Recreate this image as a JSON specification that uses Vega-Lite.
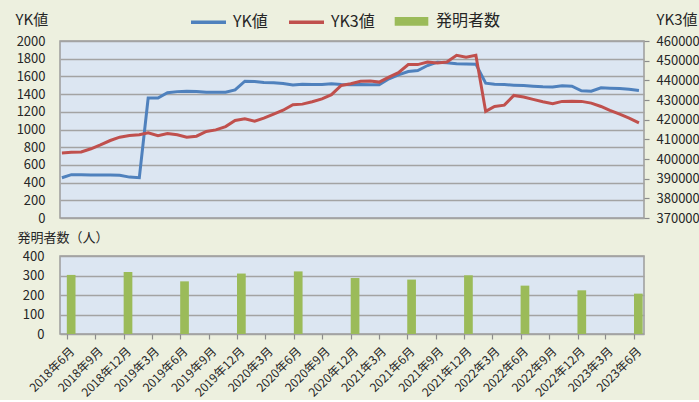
{
  "$schema": "https://vega.github.io/schema/vega-lite/v6.json",
  "background": "#EDF0DF",
  "padding": {"left": 14, "top": 1, "right": 0, "bottom": 0},
  "spacing": 4,
  "config": {
    "font": "Noto Sans CJK JP",
    "view": {"fill": "#DCE6F2", "stroke": "#9C9C9C", "strokeWidth": 1.5},
    "axis": {
      "labelFont": "Noto Sans CJK JP",
      "labelFontSize": 13,
      "labelColor": "#262626",
      "titleFont": "Noto Sans CJK JP",
      "titleFontSize": 15,
      "titleFontWeight": "normal",
      "titleColor": "#262626",
      "gridColor": "#A3A3A3",
      "gridWidth": 1.5,
      "domain": false,
      "ticks": false
    },
    "legend": {
      "orient": "none",
      "legendX": 129,
      "legendY": -39.5,
      "direction": "horizontal",
      "labelFont": "Noto Sans CJK JP",
      "labelFontSize": 16,
      "labelColor": "#262626",
      "symbolSize": 1225,
      "symbolStrokeWidth": 3.5,
      "columnPadding": 14,
      "labelOffset": 5
    }
  },
  "vconcat": [
    {
      "width": 584,
      "height": 177,
      "data": {
        "values": [
          {"date": "2018/06/01", "yk": 455, "yk3": 403100},
          {"date": "2018/07/01", "yk": 490, "yk3": 403400},
          {"date": "2018/08/01", "yk": 488, "yk3": 403600},
          {"date": "2018/09/01", "yk": 487, "yk3": 405200},
          {"date": "2018/10/01", "yk": 485, "yk3": 407200},
          {"date": "2018/11/01", "yk": 485, "yk3": 409400},
          {"date": "2018/12/01", "yk": 482, "yk3": 411100},
          {"date": "2019/01/01", "yk": 462, "yk3": 411900},
          {"date": "2019/02/01", "yk": 455, "yk3": 412300},
          {"date": "2019/03/01", "yk": 1355, "yk3": 413300},
          {"date": "2019/04/01", "yk": 1355, "yk3": 411900},
          {"date": "2019/05/01", "yk": 1415, "yk3": 413000},
          {"date": "2019/06/01", "yk": 1428, "yk3": 412300},
          {"date": "2019/07/01", "yk": 1433, "yk3": 411100},
          {"date": "2019/08/01", "yk": 1430, "yk3": 411600},
          {"date": "2019/09/01", "yk": 1422, "yk3": 414000},
          {"date": "2019/10/01", "yk": 1421, "yk3": 414800},
          {"date": "2019/11/01", "yk": 1421, "yk3": 416500},
          {"date": "2019/12/01", "yk": 1448, "yk3": 419600},
          {"date": "2020/01/01", "yk": 1546, "yk3": 420400},
          {"date": "2020/02/01", "yk": 1542, "yk3": 419200},
          {"date": "2020/03/01", "yk": 1531, "yk3": 420800},
          {"date": "2020/04/01", "yk": 1527, "yk3": 422800},
          {"date": "2020/05/01", "yk": 1520, "yk3": 424800},
          {"date": "2020/06/01", "yk": 1503, "yk3": 427600},
          {"date": "2020/07/01", "yk": 1512, "yk3": 427900},
          {"date": "2020/08/01", "yk": 1508, "yk3": 429100},
          {"date": "2020/09/01", "yk": 1508, "yk3": 430600},
          {"date": "2020/10/01", "yk": 1516, "yk3": 432700},
          {"date": "2020/11/01", "yk": 1508, "yk3": 437400},
          {"date": "2020/12/01", "yk": 1506, "yk3": 438300},
          {"date": "2021/01/01", "yk": 1508, "yk3": 439500},
          {"date": "2021/02/01", "yk": 1505, "yk3": 439600},
          {"date": "2021/03/01", "yk": 1505, "yk3": 439100},
          {"date": "2021/04/01", "yk": 1573, "yk3": 441600},
          {"date": "2021/05/01", "yk": 1618, "yk3": 443900},
          {"date": "2021/06/01", "yk": 1655, "yk3": 448000},
          {"date": "2021/07/01", "yk": 1667, "yk3": 448000},
          {"date": "2021/08/01", "yk": 1723, "yk3": 449300},
          {"date": "2021/09/01", "yk": 1761, "yk3": 448800},
          {"date": "2021/10/01", "yk": 1755, "yk3": 449300},
          {"date": "2021/11/01", "yk": 1742, "yk3": 452700},
          {"date": "2021/12/01", "yk": 1740, "yk3": 451800},
          {"date": "2022/01/01", "yk": 1738, "yk3": 452700},
          {"date": "2022/02/01", "yk": 1523, "yk3": 424200},
          {"date": "2022/03/01", "yk": 1512, "yk3": 426700},
          {"date": "2022/04/01", "yk": 1508, "yk3": 427400},
          {"date": "2022/05/01", "yk": 1501, "yk3": 432300},
          {"date": "2022/06/01", "yk": 1496, "yk3": 431500},
          {"date": "2022/07/01", "yk": 1489, "yk3": 430300},
          {"date": "2022/08/01", "yk": 1482, "yk3": 429100},
          {"date": "2022/09/01", "yk": 1480, "yk3": 428100},
          {"date": "2022/10/01", "yk": 1494, "yk3": 429300},
          {"date": "2022/11/01", "yk": 1489, "yk3": 429400},
          {"date": "2022/12/01", "yk": 1437, "yk3": 429300},
          {"date": "2023/01/01", "yk": 1433, "yk3": 428400},
          {"date": "2023/02/01", "yk": 1471, "yk3": 426700},
          {"date": "2023/03/01", "yk": 1467, "yk3": 424700},
          {"date": "2023/04/01", "yk": 1463, "yk3": 422800},
          {"date": "2023/05/01", "yk": 1455, "yk3": 420800},
          {"date": "2023/06/01", "yk": 1441, "yk3": 418400}
        ]
      },
      "layer": [
        {
          "mark": {"type": "line", "strokeWidth": 3},
          "encoding": {
            "x": {
              "field": "date", "type": "temporal",
              "scale": {"domain": [{"year": 2018, "month": 5, "date": 26}, {"year": 2023, "month": 6, "date": 17}]},
              "axis": null
            },
            "y": {
              "field": "yk", "type": "quantitative",
              "scale": {"domain": [0, 2000], "nice": false},
              "axis": {
                "orient": "left",
                "values": [0, 200, 400, 600, 800, 1000, 1200, 1400, 1600, 1800, 2000],
                "format": "d",
                "grid": true,
                "labelPadding": 15,
                "title": "YK値",
                "titleAngle": 0,
                "titleAlign": "left",
                "titleBaseline": "middle",
                "titleX": -45,
                "titleY": -22
              }
            },
            "color": {
              "datum": "YK値",
              "type": "nominal",
              "scale": {"domain": ["YK値", "YK3値", "発明者数"], "range": ["#4F81BD", "#C0504D", "#9BBB59"]},
              "legend": {
                "title": null,
                "orient": "none",
                "legendX": 129,
                "legendY": -39.5,
                "direction": "horizontal",
                "encode": {
                  "symbols": {
                    "update": {
                      "shape": {"signal": "datum.value === '発明者数' ? 'M-0.86,-0.15H0.86V0.15H-0.86Z' : 'stroke'"},
                      "fill": {"signal": "datum.value === '発明者数' ? '#9BBB59' : 'transparent'"},
                      "stroke": {"signal": "datum.value === '発明者数' ? 'transparent' : (datum.value === 'YK値' ? '#4F81BD' : '#C0504D')"},
                      "strokeWidth": {"value": 3.5}
                    }
                  }
                }
              }
            }
          }
        },
        {
          "mark": {"type": "line", "strokeWidth": 3},
          "encoding": {
            "x": {
              "field": "date", "type": "temporal",
              "scale": {"domain": [{"year": 2018, "month": 5, "date": 26}, {"year": 2023, "month": 6, "date": 17}]},
              "axis": null
            },
            "y": {
              "field": "yk3", "type": "quantitative",
              "scale": {"domain": [370000, 460000], "nice": false},
              "axis": {
                "orient": "right",
                "values": [370000, 380000, 390000, 400000, 410000, 420000, 430000, 440000, 450000, 460000],
                "format": "d",
                "grid": false,
                "ticks": true,
                "tickSize": 5,
                "tickColor": "#8C8C8C",
                "tickWidth": 1.2,
                "labelPadding": 7,
                "title": "YK3値",
                "titleAngle": 0,
                "titleAlign": "left",
                "titleBaseline": "middle",
                "titleX": 12,
                "titleY": -22
              }
            },
            "color": {"datum": "YK3値", "type": "nominal"}
          }
        }
      ],
      "resolve": {"scale": {"y": "independent"}}
    },
    {
      "width": 584,
      "height": 78,
      "data": {
        "values": [
          {"date": "2018/06/01", "n": 303},
          {"date": "2018/12/01", "n": 318},
          {"date": "2019/06/01", "n": 270},
          {"date": "2019/12/01", "n": 310},
          {"date": "2020/06/01", "n": 321},
          {"date": "2020/12/01", "n": 287},
          {"date": "2021/06/01", "n": 279},
          {"date": "2021/12/01", "n": 301},
          {"date": "2022/06/01", "n": 248},
          {"date": "2022/12/01", "n": 224},
          {"date": "2023/06/01", "n": 207}
        ]
      },
      "mark": {"type": "bar", "width": 8.7, "xOffset": 4.3},
      "encoding": {
        "x": {
          "field": "date", "type": "temporal",
          "scale": {"domain": [{"year": 2018, "month": 5, "date": 26}, {"year": 2023, "month": 6, "date": 17}]},
          "axis": {
            "values": [
              {"year": 2018, "month": 6, "date": 1}, {"year": 2018, "month": 9, "date": 1}, {"year": 2018, "month": 12, "date": 1},
              {"year": 2019, "month": 3, "date": 1}, {"year": 2019, "month": 6, "date": 1}, {"year": 2019, "month": 9, "date": 1}, {"year": 2019, "month": 12, "date": 1},
              {"year": 2020, "month": 3, "date": 1}, {"year": 2020, "month": 6, "date": 1}, {"year": 2020, "month": 9, "date": 1}, {"year": 2020, "month": 12, "date": 1},
              {"year": 2021, "month": 3, "date": 1}, {"year": 2021, "month": 6, "date": 1}, {"year": 2021, "month": 9, "date": 1}, {"year": 2021, "month": 12, "date": 1},
              {"year": 2022, "month": 3, "date": 1}, {"year": 2022, "month": 6, "date": 1}, {"year": 2022, "month": 9, "date": 1}, {"year": 2022, "month": 12, "date": 1},
              {"year": 2023, "month": 3, "date": 1}, {"year": 2023, "month": 6, "date": 1}
            ],
            "labelExpr": "year(datum.value) + '年' + (month(datum.value) + 1) + '月'",
            "labelAngle": -45,
            "labelAlign": "right",
            "labelBaseline": "middle",
            "labelOffset": 5,
            "labelPadding": 10,
            "labelFontSize": 12,
            "labelOverlap": false,
            "labelBound": false,
            "ticks": true,
            "tickSize": 5,
            "tickColor": "#8C8C8C",
            "tickWidth": 1.2,
            "grid": false,
            "title": null
          }
        },
        "y": {
          "field": "n", "type": "quantitative",
          "scale": {"domain": [0, 400], "nice": false},
          "axis": {
            "values": [0, 100, 200, 300, 400],
            "grid": true,
            "labelPadding": 16,
            "title": "発明者数（人）",
            "titleFontSize": 13,
            "titleAngle": 0,
            "titleAlign": "left",
            "titleBaseline": "middle",
            "titleX": -43,
            "titleY": -19
          }
        },
        "color": {"datum": "発明者数", "type": "nominal"}
      }
    }
  ]
}
